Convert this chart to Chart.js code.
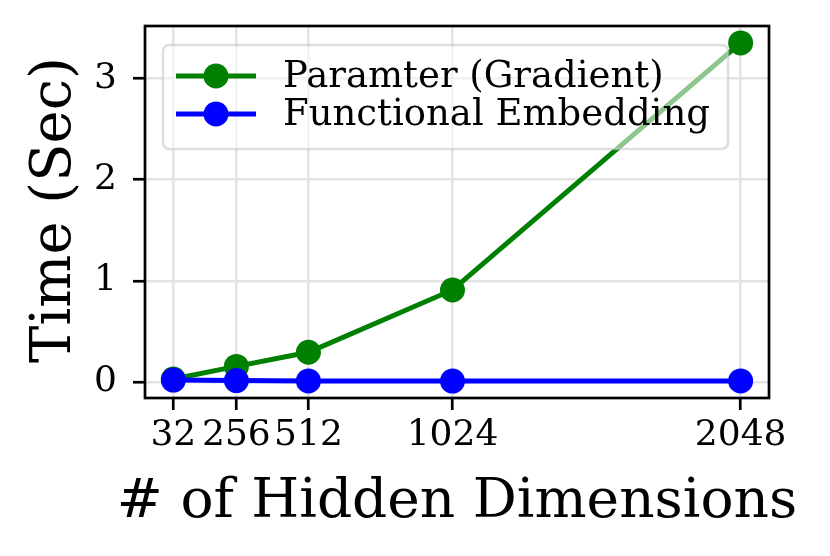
<!DOCTYPE html>
<html>
<head>
<meta charset="utf-8">
<script src="https://cdn.jsdelivr.net/npm/chart.js@4.4.1/dist/chart.umd.min.js"></script>
<style>
  html, body { margin: 0; padding: 0; background: #fff; }
  #wrap { width: 830px; height: 556px; }
</style>
</head>
<body>
<div id="wrap"><canvas id="chart" width="830" height="556"></canvas></div>
<script>
// Data
const hiddenDims = [32, 256, 512, 1024, 2048];
const gradientTime = [0.03, 0.155, 0.295, 0.91, 3.35];
const embeddingTime = [0.02, 0.015, 0.012, 0.01, 0.012];
const xTicks = [32, 256, 512, 1024, 2048];
const yTicks = [0, 1, 2, 3];
const seriesNames = ['Paramter (Gradient)', 'Functional Embedding'];
const seriesColors = ['#008000', '#0000ff'];
const xTitle = '# of Hidden Dimensions';
const yTitle = 'Time (Sec)';

const FONT = '"DejaVu Serif", serif';

// matplotlib-style 5% margins
const xMin = -68.8, xMax = 2148.8;
const yMin = -0.157, yMax = 3.517;

// no label overhang padding, the layout padding sets the plot box
function fixScale(s, key, size) {
  s[key] = size;
  s.paddingTop = s.paddingBottom = s.paddingLeft = s.paddingRight = 0;
}

// legend box inside the axes, drawn over the lines like matplotlib
const insideLegend = {
  id: 'insideLegend',
  afterDatasetsDraw(chart) {
    const ctx = chart.ctx;
    const a = chart.chartArea;
    const x = a.left + 18, y = a.top + 19, w = 565, h = 104;
    ctx.save();
    ctx.beginPath();
    ctx.roundRect(x, y, w, h, 6);
    ctx.fillStyle = 'rgba(255,255,255,0.55)';
    ctx.fill();
    ctx.lineWidth = 2.5;
    ctx.strokeStyle = 'rgba(200,200,200,0.6)';
    ctx.stroke();
    ctx.font = '37px ' + FONT;
    ctx.textBaseline = 'middle';
    seriesNames.forEach((name, i) => {
      const cy = y + 31 + i * 38;
      ctx.strokeStyle = seriesColors[i];
      ctx.lineWidth = 5;
      ctx.beginPath();
      ctx.moveTo(x + 13, cy);
      ctx.lineTo(x + 93, cy);
      ctx.stroke();
      ctx.fillStyle = seriesColors[i];
      ctx.beginPath();
      ctx.arc(x + 53, cy, 12.5, 0, Math.PI * 2);
      ctx.fill();
      ctx.fillStyle = '#000';
      ctx.fillText(name, x + 120, cy + 1);
    });
    ctx.restore();
  },
  afterDraw(chart) {
    const ctx = chart.ctx;
    const a = chart.chartArea;
    ctx.save();
    ctx.strokeStyle = '#000';
    ctx.lineWidth = 2.7;
    ctx.strokeRect(a.left, a.top, a.right - a.left, a.bottom - a.top);
    // axis titles (drawn here so they are not squeezed to the plot width)
    ctx.fillStyle = '#000';
    ctx.font = '55px ' + FONT;
    ctx.textAlign = 'center';
    ctx.textBaseline = 'alphabetic';
    ctx.fillText(xTitle, (a.left + a.right) / 2, 517);
    ctx.translate(70, (a.top + a.bottom) / 2 - 2);
    ctx.rotate(-Math.PI / 2);
    ctx.font = '56px ' + FONT;
    ctx.fillText(yTitle, 0, 0);
    ctx.restore();
  }
};

new Chart(document.getElementById('chart'), {
  type: 'line',
  data: {
    datasets: [
      {
        label: seriesNames[0],
        data: hiddenDims.map((d, i) => ({ x: d, y: gradientTime[i] })),
        borderColor: seriesColors[0],
        backgroundColor: seriesColors[0],
        borderWidth: 5,
        pointRadius: 12.5,
        pointBorderWidth: 0,
        order: 1
      },
      {
        label: seriesNames[1],
        data: hiddenDims.map((d, i) => ({ x: d, y: embeddingTime[i] })),
        borderColor: seriesColors[1],
        backgroundColor: seriesColors[1],
        borderWidth: 5,
        pointRadius: 12.5,
        pointBorderWidth: 0,
        order: 0
      }
    ]
  },
  options: {
    responsive: false,
    animation: false,
    layout: { padding: { top: 26, right: 61, left: 0, bottom: 0 } },
    plugins: { legend: { display: false }, tooltip: { enabled: false } },
    elements: { line: { tension: 0 } },
    scales: {
      x: {
        type: 'linear',
        min: xMin,
        max: xMax,
        afterBuildTicks: s => { s.ticks = xTicks.map(v => ({ value: v })); },
        afterFit: s => fixScale(s, 'height', 158),
        border: { display: false },
        grid: { color: '#e3e3e3', lineWidth: 2.5, tickColor: '#000', tickLength: 12, tickWidth: 2.7 },
        ticks: { color: '#000', font: { family: FONT, size: 36 }, padding: 4, maxRotation: 0, autoSkip: false,
                 callback: v => String(v) },
        title: { display: false }
      },
      y: {
        min: yMin,
        max: yMax,
        afterBuildTicks: s => { s.ticks = yTicks.map(v => ({ value: v })); },
        afterFit: s => fixScale(s, 'width', 145),
        border: { display: false },
        grid: { color: '#e3e3e3', lineWidth: 2.5, tickColor: '#000', tickLength: 12, tickWidth: 2.7 },
        ticks: { color: '#000', font: { family: FONT, size: 36 }, padding: 16,
                 callback: v => String(v) },
        title: { display: false }
      }
    }
  },
  plugins: [insideLegend]
});
</script>
</body>
</html>
